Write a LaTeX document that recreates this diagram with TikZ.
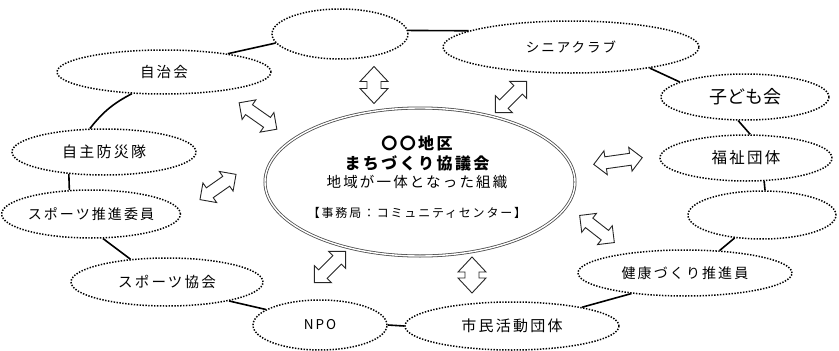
\documentclass[tikz,border=0pt]{standalone}
\usepackage{fontspec}
\newfontfamily\jp[LetterSpace=15]{Noto Sans CJK JP}
\newfontfamily\jpn{Noto Sans CJK JP}
\usetikzlibrary{shapes.geometric}
\newcommand\fs[1]{\fontsize{#1}{#1}\selectfont}
% block double arrow: x, y, angle, length, head half-width, shaft half-width, head length
\newcommand\blockarrow[7]{%
  \begin{scope}[shift={(#1,#2)}, rotate=#3]
    \pgfmathsetmacro\hl{#4/2}\pgfmathsetmacro\hb{#4/2-#7}
    \draw[barrow] (\hl,0) -- (\hb,#5) -- (\hb,#6) -- (-\hb,#6) -- (-\hb,#5) -- (-\hl,0)
      -- (-\hb,-#5) -- (-\hb,-#6) -- (\hb,-#6) -- (\hb,-#5) -- cycle;
  \end{scope}}
\begin{document}
\begin{tikzpicture}[x=1pt,y=-1pt,
  grp/.style={ellipse, draw=black, dash pattern=on 1.4pt off 1.5pt, line width=1.5pt, inner sep=0pt, font=\jp\fs{14.5}},
  link/.style={draw=black, line width=1.6pt},
  barrow/.style={draw=black!85, fill=white, line width=0.9pt, line join=miter},
  ctxt/.style={inner sep=0pt}]
\useasboundingbox (0,0) rectangle (839,351);
% group ellipses
\node[grp, minimum width=136pt, minimum height=50pt] (top) at (340,34) {};
\node[grp, minimum width=214pt, minimum height=44pt] (jichi) at (164,72) {自治会};
\node[grp, minimum width=184pt, minimum height=46pt, font=\jp\fs{15}] (bosai) at (104,152) {自主防災隊};
\node[grp, minimum width=152pt, minimum height=48pt, font=\jp\fs{14}] (suishin) at (91,214) {スポーツ推進委員};
\node[grp, minimum width=192pt, minimum height=48pt] (kyokai) at (167,282) {スポーツ協会};
\node[grp, minimum width=134pt, minimum height=50pt, font=\jp\fs{13.5}] (npo) at (320,325) {NPO};
\node[grp, minimum width=214pt, minimum height=48pt, font=\jp\fs{15}] (shimin) at (512,326) {市民活動団体};
\node[grp, minimum width=214pt, minimum height=46pt, font=\jp\fs{14}] (kenko) at (685,273) {健康づくり推進員};
\node[grp, minimum width=148pt, minimum height=48pt] (emptyR) at (762,215) {};
\node[grp, minimum width=172pt, minimum height=46pt, font=\jp\fs{15.5}] (fukushi) at (746,158) {福祉団体};
\node[grp, minimum width=168pt, minimum height=46pt, font=\jpn\fs{18}] (kodomo) at (745,97) {子ども会};
\node[grp, minimum width=256pt, minimum height=52pt, font=\jp\fs{13.5}] (shinia) at (571,47) {シニアクラブ};
% center
\node[ellipse, draw=black!70, double, double distance=1.4pt, line width=0.8pt, minimum width=310pt, minimum height=148pt] (center) at (420,182) {};
\node[ctxt, font=\jp\fs{16}\bfseries] (c1) at (417,143) {〇〇地区};
\node[ctxt, font=\jp\fs{16}\bfseries] (c2) at (417,163) {まちづくり協議会};
\node[ctxt, font=\jp\fs{14.5}] (c3) at (417,182) {地域が一体となった組織};
\node[ctxt, font=\jp\fs{12}] (c4) at (417,213) {【事務局：コミュニティセンター】};
% links
\draw[link] (top.188) -- (jichi.16);
\draw[link] (top.3) -- (shinia.171);
\draw[link] (shinia.345) -- (kodomo.167);
\draw[link] (kodomo.254) -- (fukushi.80);
\draw[link] (fukushi.308) -- (emptyR.83);
\draw[link] (emptyR.220) -- (kenko.33);
\draw[link] (kenko.201) -- (shimin.15);
\draw[link] (shimin.180) -- (npo.0);
\draw[link] (npo.164) -- (kyokai.343);
\draw[link] (kyokai.148) -- (suishin.296);
\draw[link] (suishin.132) -- (bosai.212);
\draw[link] (bosai.121) to[bend left=12] (jichi.214);
% block arrows
\blockarrow{374}{85}{90}{37}{14}{7}{15}
\blockarrow{472}{275}{90}{36}{14}{7}{15}
\blockarrow{258}{116}{-35}{46}{12}{6}{12}
\blockarrow{218}{187}{35}{44}{12}{6}{12}
\blockarrow{330}{267}{45}{44}{12}{6}{12}
\blockarrow{511}{97}{45}{44}{12}{6}{12}
\blockarrow{618}{161}{8}{49}{12}{6}{12}
\blockarrow{597}{229}{-38}{44}{12}{6}{12}
\end{tikzpicture}
\end{document}
